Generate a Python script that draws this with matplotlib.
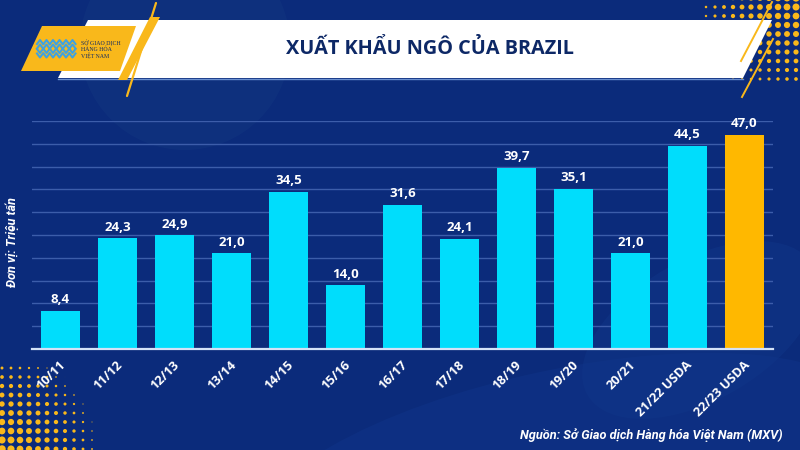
import matplotlib
matplotlib.use('Agg')
import matplotlib.pyplot as plt
import matplotlib.patches as mpatches
from matplotlib.transforms import ScaledTranslation
import numpy as np

# ---------------- data ----------------
categories = ['10/11', '11/12', '12/13', '13/14', '14/15', '15/16', '16/17',
              '17/18', '18/19', '19/20', '20/21', '21/22 USDA', '22/23 USDA']
values = [8.4, 24.3, 24.9, 21.0, 34.5, 14.0, 31.6, 24.1, 39.7, 35.1, 21.0, 44.5, 47.0]
highlight = ['22/23 USDA']
title = 'XUẤT KHẨU NGÔ CỦA BRAZIL'
ylabel = 'Đơn vị: Triệu tấn'
source = 'Nguồn: Sở Giao dịch Hàng hóa Việt Nam (MXV)'
logo_lines = ['SỞ GIAO DỊCH', 'HÀNG HÓA', 'VIỆT NAM']
y_max = 50
y_step = 5

# ---------------- style ----------------
BG = '#0B2B7B'
CYAN = '#00DDFC'
ORANGE = '#FFB800'
GRID = '#3C5DAA'
NAVY = '#0D2866'
YELLOW = '#F9B81B'

plt.rcParams['font.family'] = ['Open Sans', 'DejaVu Sans']

fig = plt.figure(figsize=(8, 4.5), dpi=100)
fig.patch.set_facecolor(BG)

# background decoration layer in pixel coordinates
bg = fig.add_axes([0, 0, 1, 1], zorder=0)
bg.set_xlim(0, 800)
bg.set_ylim(450, 0)
bg.axis('off')
bg.set_facecolor(BG)

# subtle lighter shapes
bg.add_patch(mpatches.Circle((185, 45), 105, color='#10337F', alpha=0.7, lw=0))
bg.add_patch(mpatches.Ellipse((560, 470), 620, 200, angle=-12, color='#0E3285', alpha=0.7, lw=0))
bg.add_patch(mpatches.Ellipse((700, 330), 260, 140, angle=-30, color='#103688', alpha=0.5, lw=0))

# halftone dots, top-right
xs, ys = np.meshgrid(np.arange(706, 805, 9), np.arange(-2, 80, 9))
d = np.hypot(xs - 805, ys + 5)
s = np.clip(1 - d / 115, 0, 1) ** 1.1 * 30
bg.scatter(xs.ravel(), ys.ravel(), s=s.ravel(), color=YELLOW, lw=0, zorder=1)
# halftone dots, bottom-left
xs, ys = np.meshgrid(np.arange(2, 95, 9), np.arange(368, 455, 9))
d = np.hypot(xs + 5, ys - 455)
s = np.clip(1 - d / 105, 0, 1) ** 1.1 * 32
bg.scatter(xs.ravel(), ys.ravel(), s=s.ravel(), color=YELLOW, lw=0, zorder=1)

# title banner
bg.add_patch(mpatches.Polygon([(88, 20), (772, 20), (743, 78), (58, 78)],
                              closed=True, color='white', lw=0, zorder=3))
bg.plot([58, 743], [79, 79], color='#6A8FD0', lw=1, zorder=3)
# logo box
bg.add_patch(mpatches.Polygon([(42, 26), (136, 26), (120, 71), (21, 71)],
                              closed=True, color=YELLOW, lw=0, zorder=4))
# yellow slashes
bg.add_patch(mpatches.Polygon([(150, 17), (160, 17), (127, 80), (118, 80)],
                              closed=True, color=YELLOW, lw=0, zorder=4))
bg.plot([156, 127], [3, 96], color=YELLOW, lw=1.6, zorder=4, solid_capstyle='round')
bg.plot([772, 741], [2, 61], color=YELLOW, lw=1.4, zorder=4)
bg.plot([773, 742], [39, 97], color=YELLOW, lw=1.4, zorder=4)

# logo icon (chevrons)
for k in range(6):
    cx = 40 + k * 6.5
    for dy in (0, 4.5):
        bg.plot([cx - 3, cx, cx + 3], [44 + dy, 40 + dy, 44 + dy], color='#3FA2E0', lw=1.5, zorder=5)
        bg.plot([cx - 3, cx, cx + 3], [49 + dy, 53 + dy, 49 + dy], color='#3FA2E0', lw=1.5, zorder=5)
for i, t in enumerate(logo_lines):
    bg.text(81, 43 + i * 6.5, t, fontsize=4.2, color=NAVY, va='center', ha='left',
            family=['Liberation Serif', 'DejaVu Serif'], zorder=5)

bg.text(430, 49, title, fontsize=14.3, fontweight='bold', color=NAVY,
        ha='center', va='center', zorder=5)

# ---------------- chart ----------------
ax = fig.add_axes([32 / 800, 1 - 349 / 450, 741 / 800, 228 / 450], zorder=2)
ax.set_facecolor('none')
x = np.arange(len(categories))
colors = [ORANGE if c in highlight else CYAN for c in categories]
bars = ax.bar(x, values, width=0.67, color=colors, zorder=3)

ax.set_xlim(-0.5, len(categories) - 0.5)
ax.set_ylim(0, y_max)
ax.set_yticks(np.arange(y_step, y_max + 0.1, y_step))
ax.yaxis.grid(True, color=GRID, lw=1, zorder=0)
ax.tick_params(axis='y', length=0, labelleft=False)
for sp in ['top', 'right', 'left']:
    ax.spines[sp].set_visible(False)
ax.spines['bottom'].set_color('#D4E2F7')
ax.spines['bottom'].set_linewidth(1.6)
ax.spines['bottom'].set_zorder(4)

for xi, v in zip(x, values):
    ax.annotate(f'{v:.1f}'.replace('.', ','), (xi, v), xytext=(0, 8), textcoords='offset points',
                ha='center', va='center', color='white', fontsize=9.5, fontweight='bold')

ax.set_xticks(x)
ax.set_xticklabels(categories, rotation=45, ha='right', va='center', rotation_mode='anchor',
                   color='white', fontsize=9.3, fontweight='bold')
ax.tick_params(axis='x', length=0, pad=10)
for lab in ax.get_xticklabels():
    lab.set_transform(lab.get_transform() + ScaledTranslation(3 / 100, 0, fig.dpi_scale_trans))

fig.text(12 / 800, 1 - 242 / 450, ylabel, rotation=90, ha='center', va='center', color='white',
         fontsize=9, fontweight='bold', fontstyle='italic', family=['Roboto', 'DejaVu Sans'])
fig.text(783 / 800, 1 - 435 / 450, source, ha='right', va='center', color='white',
         fontsize=9.2, fontweight='bold', fontstyle='italic', family=['Roboto', 'DejaVu Sans'])

fig.savefig('out.png', dpi=100, facecolor=BG)
